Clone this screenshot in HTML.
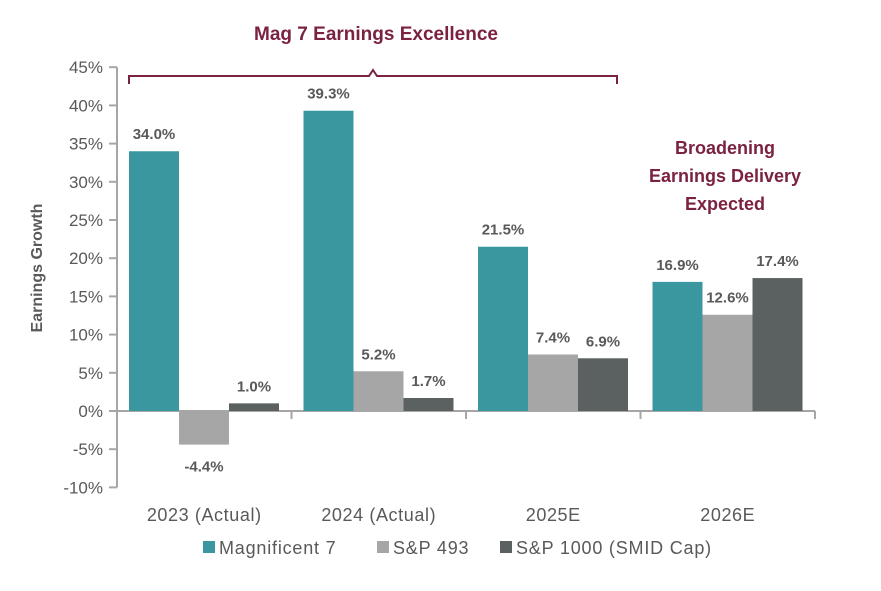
<!DOCTYPE html>
<html><head><meta charset="utf-8"><style>
body{margin:0;background:#fff;}
svg text{font-family:"Liberation Sans",sans-serif;}
</style></head><body>
<svg id="chart" width="881" height="586" viewBox="0 0 881 586" xmlns="http://www.w3.org/2000/svg">
<text x="376" y="40" text-anchor="middle" font-size="19" font-weight="bold" fill="#7b2142">Mag 7 Earnings Excellence</text>
<path d="M129,84 V76 H369 L373,70 L377,76 H617 V84" fill="none" stroke="#7b2142" stroke-width="2"/>
<g font-size="18" font-weight="bold" fill="#7b2142" text-anchor="middle">
<text x="725" y="154">Broadening</text><text x="725" y="182">Earnings Delivery</text><text x="725" y="210">Expected</text>
</g>
<text transform="translate(42,268) rotate(-90)" text-anchor="middle" font-size="16" font-weight="bold" fill="#595959">Earnings Growth</text>
<g id="axes"></g>
<g id="bars"></g>
<g id="legend"></g>
</svg>
<script>
const categories=["2023 (Actual)","2024 (Actual)","2025E","2026E"];
const seriesNames=["Magnificent 7","S&P 493","S&P 1000 (SMID Cap)"];
const mag7=[34.0,39.3,21.5,16.9];
const sp493=[-4.4,5.2,7.4,12.6];
const sp1000=[1.0,1.7,6.9,17.4];
const yTicks=[-10,-5,0,5,10,15,20,25,30,35,40,45];
const colors=["#3b979f","#a6a6a6","#5b6161"];
const NS="http://www.w3.org/2000/svg";
const x0=117,x1=815,y0pix=411,perUnit=7.64;
const y=v=>y0pix-v*perUnit;
const catW=(x1-x0)/categories.length;
const xc=i=>x0+catW*i;
function mk(tag,attrs,parent){const e=document.createElementNS(NS,tag);for(const k in attrs)e.setAttribute(k,attrs[k]);parent.appendChild(e);return e;}
const axes=document.getElementById('axes');
const va=mk('line',{x1:x0,x2:x0,y1:y(45),y2:y(-10),stroke:'#a6a6a6','stroke-width':2},axes);


yTicks.forEach(t=>{
 const l=mk('line',{x1:x0-8,x2:x0,y1:y(t),y2:y(t),stroke:'#a6a6a6','stroke-width':2},axes);
 
 
 const tx=mk('text',{x:x0-14,y:y(t)+6,'text-anchor':'end','font-size':17,fill:'#595959'},axes);
 tx.textContent=t+'%';
 
 
});
const ha=mk('line',{x1:x0,x2:x1,y1:y(0),y2:y(0),stroke:'#a6a6a6','stroke-width':2},axes);


for(let i=0;i<=categories.length;i++){
 const l=mk('line',{x1:xc(i),x2:xc(i),y1:y(0),y2:y(0)+8,stroke:'#a6a6a6','stroke-width':2},axes);
 
 
}
categories.forEach((c,i)=>{
 const tx=mk('text',{x:xc(i)+catW/2,y:521,'text-anchor':'middle','font-size':18,'letter-spacing':0.6,fill:'#595959'},axes);
 tx.textContent=c;
 
 
});
const bars=document.getElementById('bars');
const series=[mag7,sp493,sp1000];
const bw=50;
series.forEach((s,si)=>{
 s.forEach((v,i)=>{
  const bx=xc(i)+12+si*bw;
  const top=Math.min(y(v),y(0)),h=Math.abs(y(v)-y(0));
  const r=mk('rect',{x:bx,y:top,width:bw,height:h,fill:colors[si]},bars);
  
  
  const ly=v>=0?y(v)-12:y(v)+27;
  const t=mk('text',{x:bx+bw/2,y:ly,'text-anchor':'middle','font-size':15,'font-weight':'bold',fill:'#595959'},bars);
  t.textContent=v.toFixed(1)+'%';
  
  
 });
});
const leg=document.getElementById('legend');
const lx=[203,377,500];
seriesNames.forEach((n,i)=>{
 const r=mk('rect',{x:lx[i],y:541,width:12,height:12,fill:colors[i]},leg);
 
 
 const t=mk('text',{x:lx[i]+16,y:554,'font-size':18,'letter-spacing':0.8,fill:'#595959'},leg);
 t.textContent=n;
 
 
});
</script>
</body></html>
